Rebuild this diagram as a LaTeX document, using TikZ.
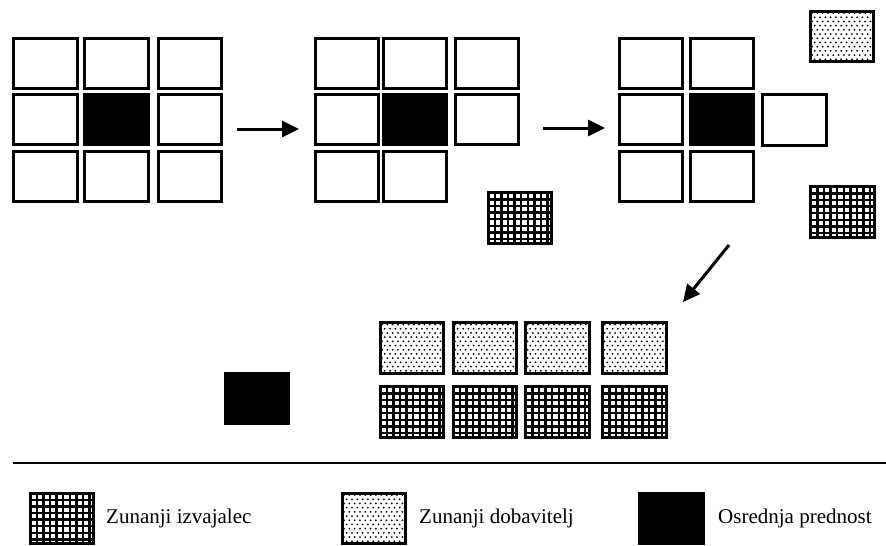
\documentclass[tikz,border=0pt]{standalone}
\usepackage{fontspec}
\setmainfont{Liberation Serif}
\usetikzlibrary{arrows.meta,calc}

\tikzset{
  cell/.style={draw, line width=3pt, rectangle, inner sep=0pt,
    minimum width=63.5pt, minimum height=50.5pt, fill=white},
  core/.style={cell, fill=black},
  hatchcell/.style={cell, path picture={
      \foreach \k in {0,...,10}{
        \draw[black, line width=2.4pt]
          ($(path picture bounding box.north west)+(\k*6.6pt,0pt)$) -- ++(0pt,-60pt);
      }
      \foreach \k in {0,...,8}{
        \draw[black, line width=2.4pt]
          ($(path picture bounding box.north west)+(0pt,-\k*6.6pt)$) -- ++(70pt,0pt);
      }
    }},
  dotcell/.style={cell, path picture={
      \foreach \r in {0,...,12}{
        \foreach \c in {0,...,12}{
          \fill[black] ($(path picture bounding box.north west)
                 +({\c*5.3pt+mod(\r,2)*2.65pt+1.8pt},{-\r*4.2pt-1.8pt})$)
                 circle[radius=1pt];
        }
      }
    }},
  flow/.style={line width=3pt, -{Triangle[length=17pt,width=16pt]}},
  legendtext/.style={anchor=west, inner sep=0pt, font=\fontsize{21}{25}\selectfont},
}

\begin{document}
\begin{tikzpicture}[x=1pt, y=-1pt]
  \useasboundingbox (0,0) rectangle (886,546);

  % first stage: full 3x3 organisation around the core
  \node[cell] (a11) at (45.5,63.5) {};
  \node[cell] (a21) at (116.5,63.5) {};
  \node[cell] (a31) at (190,63.5) {};
  \node[cell] (a12) at (45.5,119.5) {};
  \node[core] (a22) at (116.5,119.5) {};
  \node[cell] (a32) at (190,119.5) {};
  \node[cell] (a13) at (45.5,176.5) {};
  \node[cell] (a23) at (116.5,176.5) {};
  \node[cell] (a33) at (190,176.5) {};

  % second stage: one activity handed to an outside contractor
  \node[cell] (b11) at (347,63.5) {};
  \node[cell] (b21) at (415,63.5) {};
  \node[cell] (b31) at (487,63.5) {};
  \node[cell] (b12) at (347,119.5) {};
  \node[core] (b22) at (415,119.5) {};
  \node[cell] (b32) at (487,119.5) {};
  \node[cell] (b13) at (347,176.5) {};
  \node[cell] (b23) at (415,176.5) {};
  \node[hatchcell] (bx) at (520,218) {};

  % third stage: further activities move outward
  \node[cell] (c11) at (651,63.5) {};
  \node[cell] (c21) at (722,63.5) {};
  \node[cell] (c12) at (651,119.5) {};
  \node[core] (c22) at (722,119.5) {};
  \node[cell] (c32) at (794.5,120) {};
  \node[cell] (c13) at (651,176.5) {};
  \node[cell] (c23) at (722,176.5) {};
  \node[dotcell] (cs) at (842,36.5) {};
  \node[hatchcell] (cx) at (842.5,212) {};

  % final stage: core plus outside suppliers and contractors
  \node[core] (d0) at (257,398.5) {};
  \foreach \cx [count=\i] in {412,485,557.5,634.5}{
    \node[dotcell] (ds\i) at (\cx,348) {};
    \node[hatchcell] (dx\i) at (\cx,412) {};
  }

  % stage arrows
  \coordinate (p1) at (237,129);
  \coordinate (q1) at (299,129);
  \coordinate (p2) at (543,128);
  \coordinate (q2) at (605,128);
  \coordinate (p3) at (729,245);
  \coordinate (q3) at (683,302);
  \draw[flow] (p1) -- (q1);
  \draw[flow] (p2) -- (q2);
  \draw[flow] (p3) -- (q3);

  % separator
  \coordinate (s0) at (13,463);
  \coordinate (s1) at (886,463);
  \draw[line width=2.2pt] (s0) -- (s1);

  % legend
  \node[hatchcell] (lx) at (62,518.5) {};
  \node[legendtext] (lxt) at (106,518) {Zunanji izvajalec};
  \node[dotcell] (ls) at (374,518.5) {};
  \node[legendtext] (lst) at (419,518) {Zunanji dobavitelj};
  \node[core] (lc) at (671.5,518.5) {};
  \node[legendtext] (lct) at (718,518) {Osrednja prednost};
\end{tikzpicture}
\end{document}
